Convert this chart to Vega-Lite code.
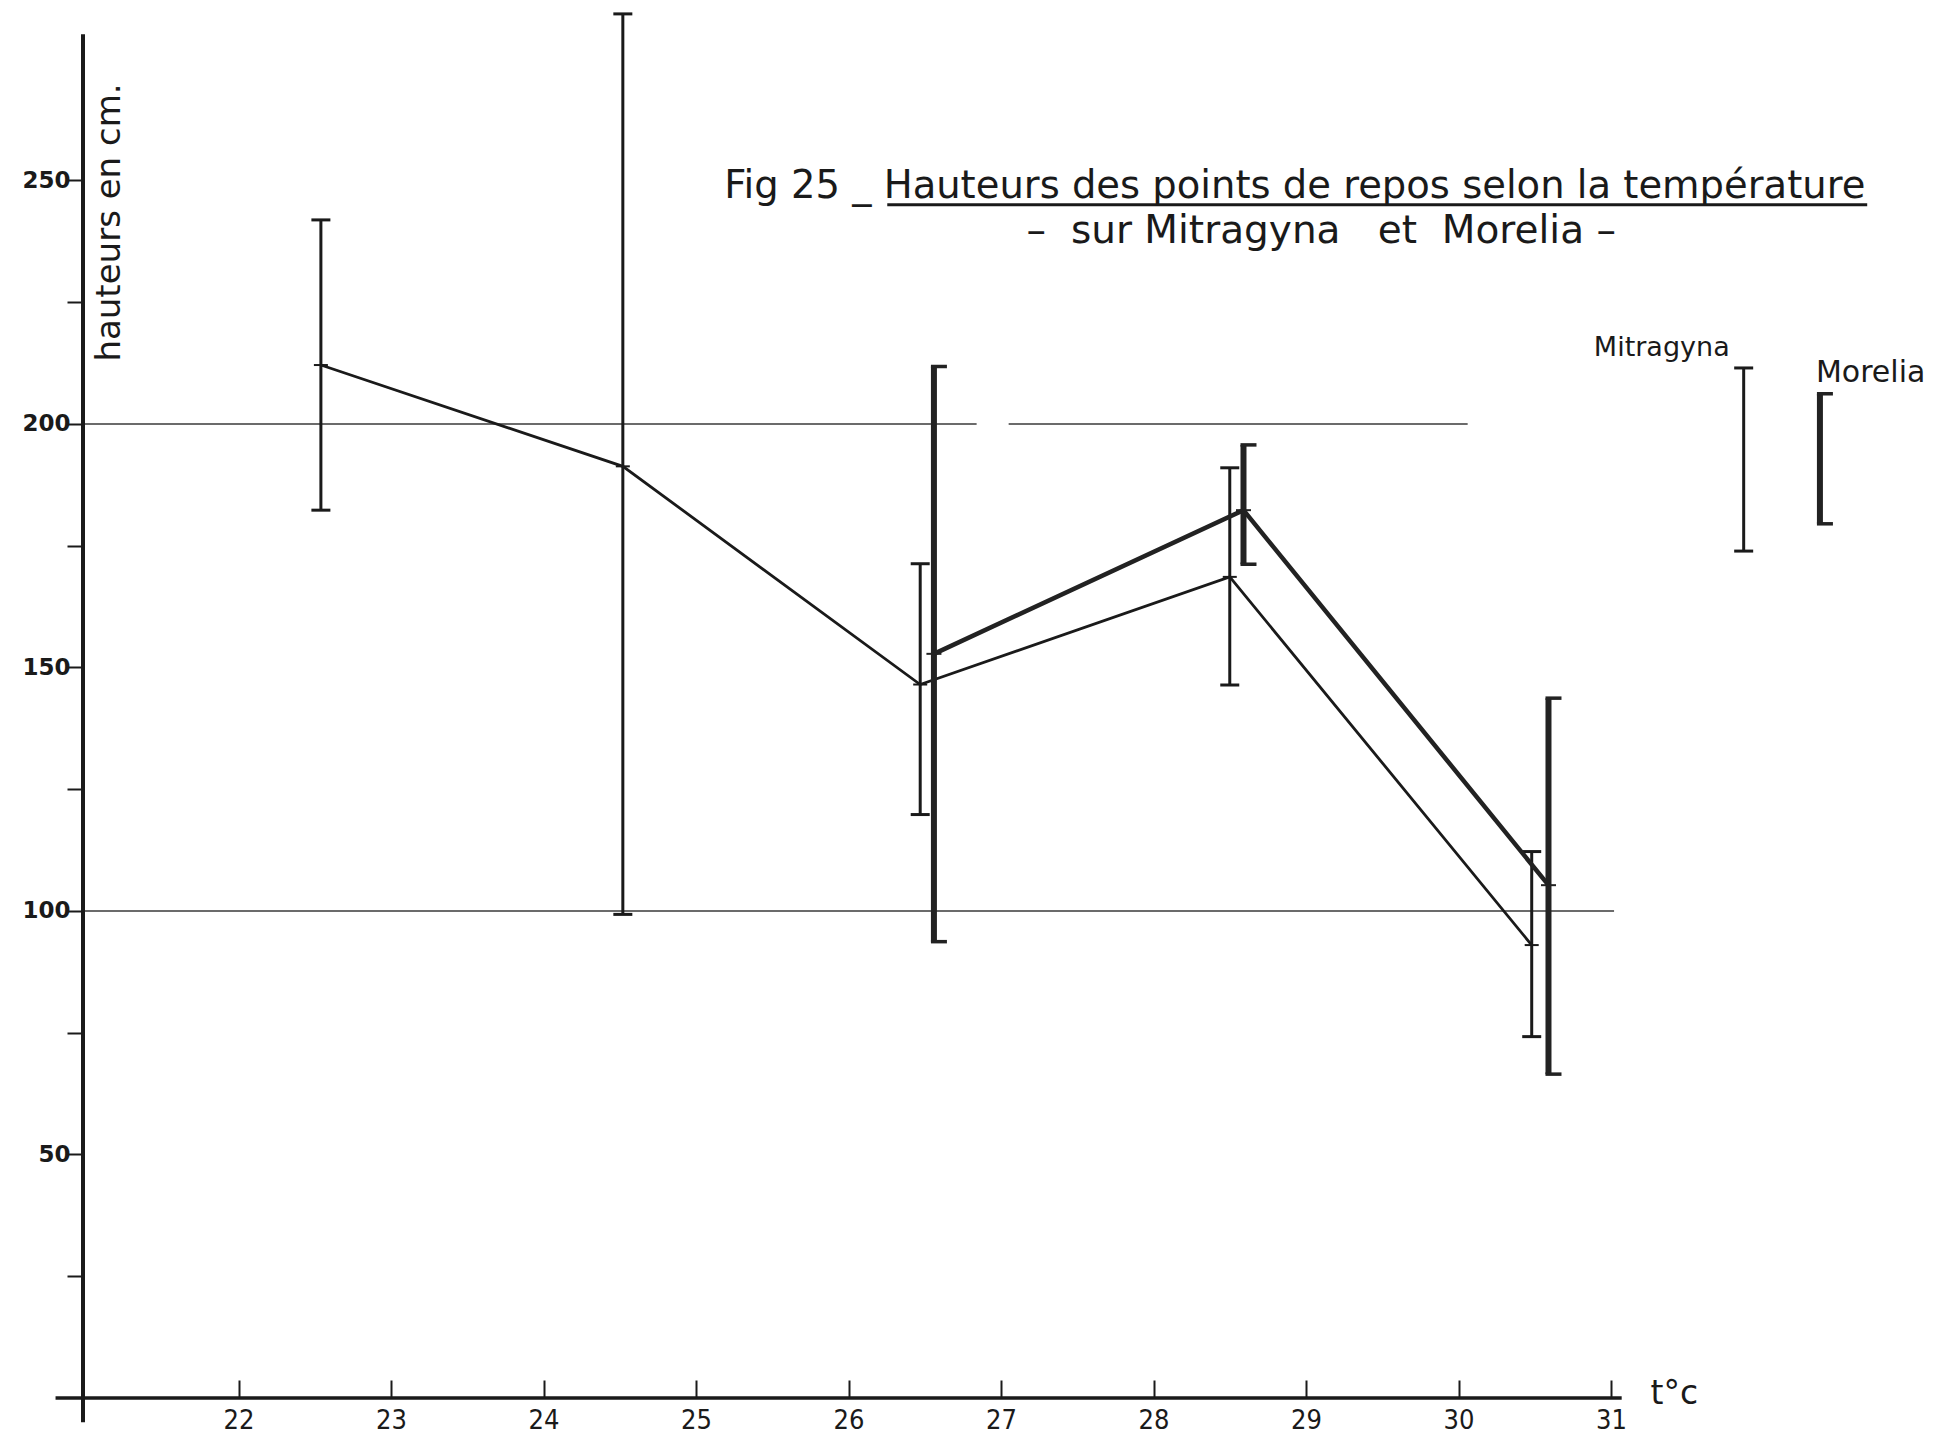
{
"$schema":"https://vega.github.io/schema/vega-lite/v6.json",
"width":1833,"height":1388,
"autosize":{"type":"none"},
"padding":{"left":83,"top":10,"right":22,"bottom":39},
"background":"white",
"config":{"view":{"stroke":null},"axis":{"grid":false,"domain":false,"labelColor":"#1a1a1a","tickColor":"#1a1a1a","titleColor":"#1a1a1a"}},
"datasets":{
"bars":[
{"series":"Mitragyna","x":22.54,"mean":212.1,"lo":182.3,"hi":241.9},
{"series":"Mitragyna","x":24.52,"mean":191.3,"lo":99.3,"hi":284.2},
{"series":"Mitragyna","x":26.47,"mean":146.5,"lo":119.8,"hi":171.3},
{"series":"Mitragyna","x":28.50,"mean":168.6,"lo":146.4,"hi":191.0},
{"series":"Mitragyna","x":30.48,"mean":93.0,"lo":74.2,"hi":112.2},
{"series":"Morelia","x":26.56,"mean":152.8,"lo":93.7,"hi":211.8},
{"series":"Morelia","x":28.59,"mean":182.3,"lo":171.2,"hi":195.7},
{"series":"Morelia","x":30.59,"mean":105.3,"lo":66.5,"hi":143.7}
],
"refs":[
{"y":200,"x1":20.98,"x2":26.84},
{"y":200,"x1":27.05,"x2":30.06},
{"y":100,"x1":20.98,"x2":31.02}
]},
"layer":[
{"data":{"name":"refs"},"mark":{"type":"rule","color":"#3a3a3a","strokeWidth":1.5},
 "encoding":{
  "x":{"field":"x1","type":"quantitative","scale":{"domain":[20.98,33],"nice":false,"zero":false},
   "axis":{"title":"t°c","values":[22,23,24,25,26,27,28,29,30,31],"format":"d","tickSize":-18,"tickWidth":2,"labelPadding":27,"labelFont":"Liberation Sans Narrow, DejaVu Sans Condensed, DejaVu Sans","labelFontSize":27,"titleX":1567,"titleY":5,"titleAlign":"left","titleBaseline":"alphabetic","titleFont":"DejaVu Sans","titleFontSize":33,"titleFontWeight":"normal"}},
  "x2":{"field":"x2"},
  "y":{"field":"y","type":"quantitative","scale":{"domain":[0,285],"nice":false,"zero":false},
   "axis":{"title":"hauteurs en cm.","values":[25,50,75,100,125,150,175,200,225,250],"tickSize":16,"tickWidth":2,"labelExpr":"datum.value % 50 === 0 ? datum.label : ''","labelPadding":-3,"labelFont":"DejaVu Sans","labelFontWeight":"bold","labelFontSize":23,"titleX":26,"titleY":212,"titleAngle":-90,"titleAlign":"center","titleBaseline":"middle","titleFont":"DejaVu Sans","titleFontSize":34,"titleFontWeight":"normal"}}}},
{"data":{"values":[{}]},"mark":{"type":"rule","color":"#1a1a1a","strokeWidth":3.5},
 "encoding":{"x":{"datum":20.8},"x2":{"datum":31.07},"y":{"datum":0}}},
{"data":{"values":[{}]},"mark":{"type":"rule","color":"#1a1a1a","strokeWidth":4},
 "encoding":{"x":{"datum":20.98},"y":{"datum":-5},"y2":{"datum":280}}},
{"data":{"name":"bars"},"transform":[{"filter":"datum.series === 'Mitragyna'"}],
 "mark":{"type":"rule","color":"#1a1a1a","strokeWidth":3},
 "encoding":{"x":{"field":"x","type":"quantitative"},"y":{"field":"lo","type":"quantitative"},"y2":{"field":"hi"}}},
{"data":{"name":"bars"},"transform":[{"filter":"datum.series === 'Mitragyna'"},{"fold":["lo","hi"],"as":["end","yv"]}],
 "mark":{"type":"tick","orient":"horizontal","color":"#1a1a1a","size":19,"thickness":3,"opacity":1},
 "encoding":{"x":{"field":"x","type":"quantitative"},"y":{"field":"yv","type":"quantitative"}}},
{"data":{"name":"bars"},"transform":[{"filter":"datum.series === 'Mitragyna'"}],
 "mark":{"type":"line","color":"#1a1a1a","strokeWidth":2.8},
 "encoding":{"x":{"field":"x","type":"quantitative"},"y":{"field":"mean","type":"quantitative"}}},
{"data":{"name":"bars"},"transform":[{"filter":"datum.series === 'Mitragyna'"}],
 "mark":{"type":"tick","orient":"horizontal","color":"#1a1a1a","size":14,"thickness":2,"opacity":1},
 "encoding":{"x":{"field":"x","type":"quantitative"},"y":{"field":"mean","type":"quantitative"}}},
{"data":{"name":"bars"},"transform":[{"filter":"datum.series === 'Morelia'"}],
 "mark":{"type":"rule","color":"#222222","strokeWidth":6},
 "encoding":{"x":{"field":"x","type":"quantitative"},"y":{"field":"lo","type":"quantitative"},"y2":{"field":"hi"}}},
{"data":{"name":"bars"},"transform":[{"filter":"datum.series === 'Morelia'"},{"fold":["lo","hi"],"as":["end","yv"]}],
 "mark":{"type":"tick","orient":"horizontal","color":"#222222","size":16,"thickness":3.5,"xOffset":5,"opacity":1},
 "encoding":{"x":{"field":"x","type":"quantitative"},"y":{"field":"yv","type":"quantitative"}}},
{"data":{"name":"bars"},"transform":[{"filter":"datum.series === 'Morelia'"}],
 "mark":{"type":"line","color":"#222222","strokeWidth":4.5},
 "encoding":{"x":{"field":"x","type":"quantitative"},"y":{"field":"mean","type":"quantitative"}}},
{"data":{"name":"bars"},"transform":[{"filter":"datum.series === 'Morelia'"}],
 "mark":{"type":"tick","orient":"horizontal","color":"#222222","size":15,"thickness":2,"opacity":1},
 "encoding":{"x":{"field":"x","type":"quantitative"},"y":{"field":"mean","type":"quantitative"}}},
{"data":{"values":[{}]},"mark":{"type":"text","text":"Fig 25 _ Hauteurs des points de repos selon la température","align":"left","baseline":"alphabetic","font":"DejaVu Sans","fontSize":38.5,"color":"#1a1a1a"},
 "encoding":{"x":{"datum":25.185},"y":{"datum":246.3}}},
{"data":{"values":[{}]},"mark":{"type":"rule","color":"#1a1a1a","strokeWidth":3},
 "encoding":{"x":{"datum":26.254},"x2":{"datum":32.68},"y":{"datum":245.0}}},
{"data":{"values":[{}]},"mark":{"type":"text","text":"–\u00a0\u00a0sur Mitragyna\u00a0\u00a0\u00a0et\u00a0\u00a0Morelia\u00a0–","align":"center","baseline":"alphabetic","font":"DejaVu Sans","fontSize":39,"color":"#1a1a1a"},
 "encoding":{"x":{"datum":29.10},"y":{"datum":237.2}}},
{"data":{"values":[{}]},"mark":{"type":"text","text":"Mitragyna","align":"right","baseline":"middle","dx":-14,"font":"DejaVu Sans","fontSize":27,"color":"#1a1a1a"},
 "encoding":{"x":{"datum":31.87},"y":{"datum":215.6}}},
{"data":{"values":[{}]},"mark":{"type":"text","text":"Morelia","align":"left","baseline":"middle","dx":-4,"font":"DejaVu Sans","fontSize":30,"color":"#1a1a1a"},
 "encoding":{"x":{"datum":32.37},"y":{"datum":210.5}}},
{"data":{"values":[{}]},"mark":{"type":"rule","color":"#1a1a1a","strokeWidth":3},
 "encoding":{"x":{"datum":31.87},"y":{"datum":173.9},"y2":{"datum":211.5}}},
{"data":{"values":[{}]},"mark":{"type":"tick","orient":"horizontal","color":"#1a1a1a","size":19,"thickness":3,"opacity":1},
 "encoding":{"x":{"datum":31.87},"y":{"datum":173.9}}},
{"data":{"values":[{}]},"mark":{"type":"tick","orient":"horizontal","color":"#1a1a1a","size":19,"thickness":3,"opacity":1},
 "encoding":{"x":{"datum":31.87},"y":{"datum":211.5}}},
{"data":{"values":[{}]},"mark":{"type":"rule","color":"#222222","strokeWidth":6},
 "encoding":{"x":{"datum":32.37},"y":{"datum":179.5},"y2":{"datum":206.2}}},
{"data":{"values":[{}]},"mark":{"type":"tick","orient":"horizontal","color":"#222222","size":16,"thickness":3.5,"xOffset":5,"opacity":1},
 "encoding":{"x":{"datum":32.37},"y":{"datum":179.5}}},
{"data":{"values":[{}]},"mark":{"type":"tick","orient":"horizontal","color":"#222222","size":16,"thickness":3.5,"xOffset":5,"opacity":1},
 "encoding":{"x":{"datum":32.37},"y":{"datum":206.2}}}
]
}
